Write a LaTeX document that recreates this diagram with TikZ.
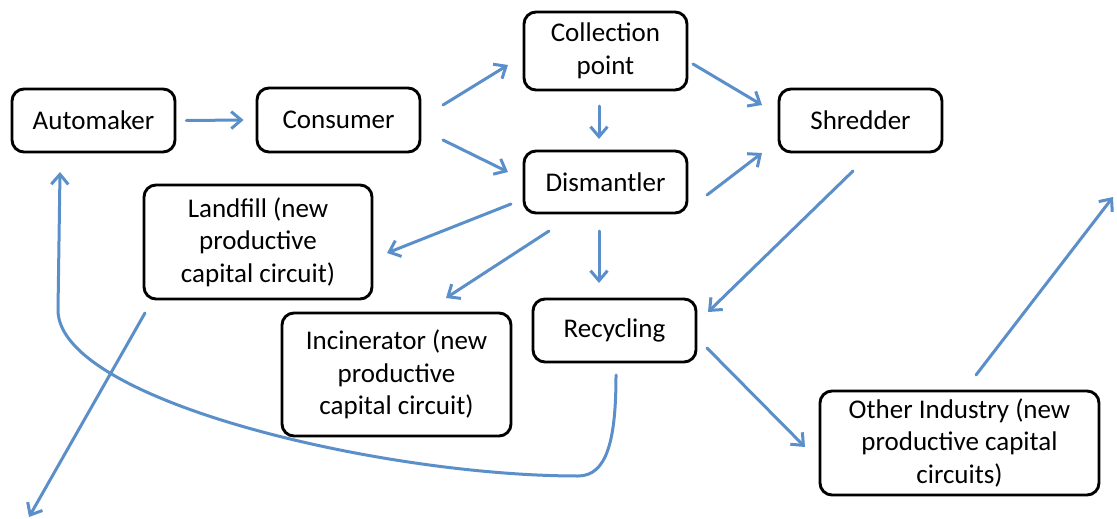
\documentclass[tikz,border=0pt]{standalone}
\usepackage{fontspec}
\setmainfont{Carlito}
\usetikzlibrary{arrows.meta}
\definecolor{arrowblue}{HTML}{5B8FC9}
\begin{document}
\begin{tikzpicture}[x=1pt,y=-1pt,
  box/.style={draw=black, line width=2.9pt, rounded corners=12pt, align=center,
    inner sep=0pt, font=\fontsize{27}{32.5}\selectfont},
  flow/.style={draw=arrowblue, line width=3pt, line cap=round,
    -{Straight Barb[length=10pt,width=17pt,line width=3pt]}}]
\useasboundingbox (0,0) rectangle (1117,519);
\node[box, minimum width=163pt, minimum height=63pt] (auto) at (93.5,120.5) {Automaker};
\node[box, minimum width=163pt, minimum height=64pt] (cons) at (338.5,120) {Consumer};
\node[box, minimum width=163pt, minimum height=78pt] (coll) at (605.5,51) {Collection\\point};
\node[box, minimum width=163pt, minimum height=62pt] (dism) at (605.5,182) {Dismantler};
\node[box, minimum width=163pt, minimum height=63pt] (shred) at (860.5,120.5) {Shredder};
\node[box, minimum width=228pt, minimum height=114pt] (land) at (258,242) {Landfill (new\\productive\\capital circuit)};
\node[box, minimum width=229pt, minimum height=123pt] (inc) at (396.5,374.5) {Incinerator (new\\productive\\capital circuit)};
\node[box, minimum width=163pt, minimum height=63pt] (recy) at (614.5,330.5) {Recycling};
\node[box, minimum width=279pt, minimum height=104pt] (other) at (959.5,443) {Other Industry (new\\productive capital\\circuits)};
\coordinate (outR) at (1113,197);
\coordinate (outL) at (29,517);
\coordinate (loopA) at (578,476);
\coordinate (loopB) at (58,310);
% connectors
\draw[flow] ([xshift=10pt]auto.east) -- ([xshift=-12pt]cons.west);
\draw[flow] (443,105) -- (508,65);
\draw[flow] (443,140) -- (508,172);
\draw[flow] (599,106) -- (599,139);
\draw[flow] (693,64) -- (762,105);
\draw[flow] (707,195) -- (762,153);
\draw[flow] (511,204) -- (387,253);
\draw[flow] (549,231) -- (446,298);
\draw[flow] (599,231) -- (599,283);
\draw[flow] (853,171) -- (708,312);
\draw[flow] (707,348) -- (805,447);
\draw[flow] (976,375) -- (outR);
\draw[flow] (145,313) -- (outL);
\draw[flow] (616,375) .. controls (616,440) and (607,476) .. (loopA)
  .. controls (380,476) and (58,400) .. (loopB) -- (60,172);
\end{tikzpicture}
\end{document}
